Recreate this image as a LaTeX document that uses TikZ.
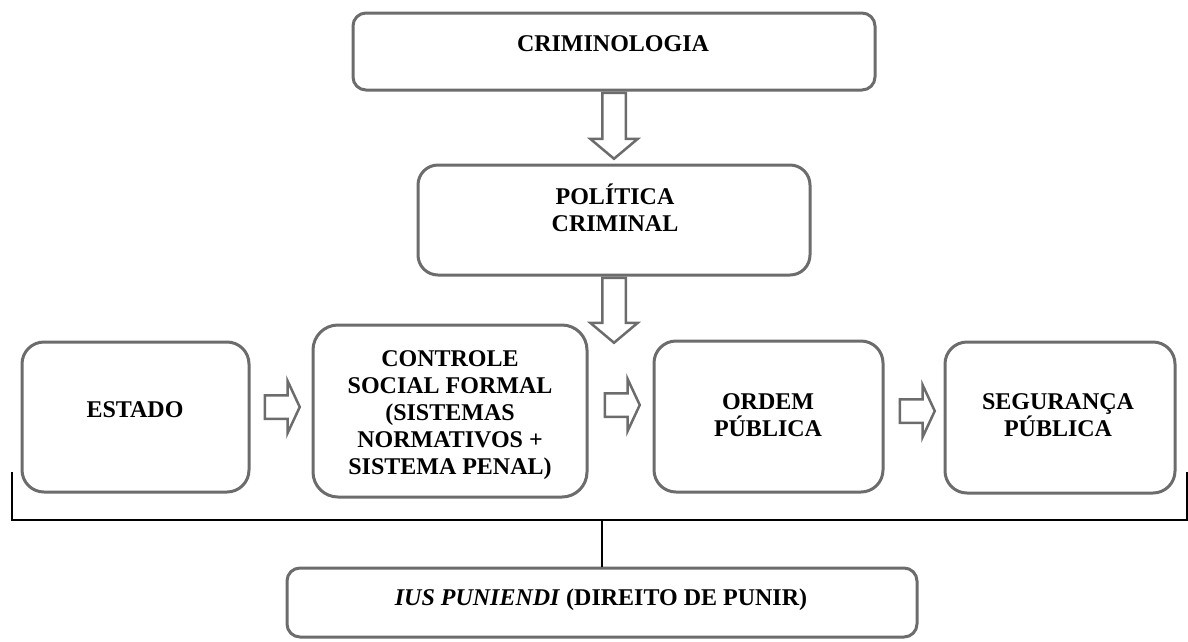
\documentclass[tikz,border=0pt]{standalone}
\usepackage{fontspec}
\setmainfont{Liberation Serif}
\usetikzlibrary{shapes.arrows}
\definecolor{boxgray}{RGB}{108,108,108}

\tikzset{
  box/.style={draw=boxgray, line width=3pt, rounded corners=#1, inner sep=0pt},
  box/.default=22pt,
  txt/.style={font=\fontsize{24}{27}\selectfont\bfseries, align=center, inner sep=0pt},
  harrow/.style={single arrow, draw=boxgray, fill=white, line width=2.5pt,
    inner sep=10.5pt, minimum height=35pt, single arrow head extend=14.5pt,
    single arrow tip angle=130, single arrow head indent=0pt, anchor=tail},
  varrow/.style={single arrow, shape border rotate=270, draw=boxgray, fill=white,
    line width=2.5pt, inner sep=10.5pt, minimum height=66pt,
    single arrow head extend=12pt, single arrow tip angle=100,
    single arrow head indent=0pt, anchor=tail},
  bracket/.style={line width=2.4pt, black}
}

\begin{document}
\begin{tikzpicture}[x=1pt,y=-1pt]

\useasboundingbox (0,0) rectangle (1188,641) ;

\node [box=13pt, minimum width=522pt, minimum height=77pt] (crim) at (614,51.5) {} ;
\node [txt] (crimtxt) at (613,43.5) {CRIMINOLOGIA} ;

\node [box=20pt, minimum width=392pt, minimum height=110pt] (pol) at (614,220) {} ;
\node [txt, text depth=0pt] (poltxt) at (615,207.5) {POLÍTICA\\CRIMINAL} ;

\node [box, minimum width=227pt, minimum height=150pt] (estado) at (135.5,417) {} ;
\node [txt] (estadotxt) at (135,410) {ESTADO} ;

\node [box=25pt, minimum width=274pt, minimum height=172pt] (ctrl) at (450,411) {} ;
\node [txt] (ctrltxt) at (450,415) {CONTROLE\\SOCIAL FORMAL\\(SISTEMAS\\NORMATIVOS +\\SISTEMA PENAL)} ;

\node [box, minimum width=229pt, minimum height=151pt] (ordem) at (768.5,416.5) {} ;
\node [txt] (ordemtxt) at (768,415.5) {ORDEM\\PÚBLICA} ;

\node [box, minimum width=230pt, minimum height=151pt] (seg) at (1060,417.5) {} ;
\node [txt] (segtxt) at (1058,415) {SEGURANÇA\\PÚBLICA} ;

\node [box=13pt, minimum width=630pt, minimum height=69pt] (ius) at (602,602.5) {} ;
\node [txt] (iustxt) at (601,600) {\textit{IUS PUNIENDI} (DIREITO DE PUNIR)} ;

% block arrows
\node [varrow] (crimpol) at (crim.south) {} ;
\node [varrow, minimum height=65pt] (polord) at (pol.south) {} ;
\node [harrow] (estctrl) at ([xshift=13pt,yshift=10pt]estado.east) {} ;
\node [harrow] (ctrlord) at ([xshift=15pt,yshift=6pt]ctrl.east) {} ;
\node [harrow] (ordseg) at ([xshift=14pt,yshift=5.5pt]ordem.east) {} ;

% bracket
\coordinate (brl) at (12,520) ;
\coordinate (brr) at (1187,520) ;
\draw [bracket] (12,472) -- (brl) -- (brr) -- (1187,472) ;
\draw [bracket] (ius.north) -- (ius.north |- brl) ;

\end{tikzpicture}
\end{document}
